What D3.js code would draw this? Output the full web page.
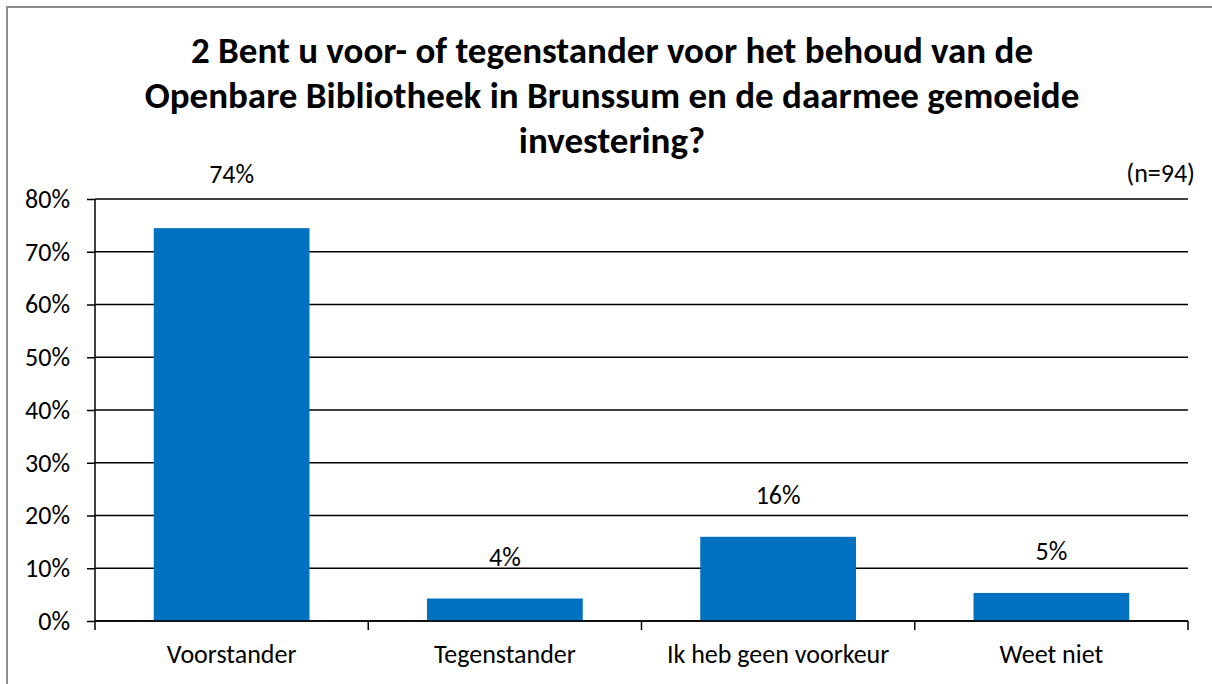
<!DOCTYPE html>
<html><head><meta charset="utf-8">
<script src="https://cdn.jsdelivr.net/npm/d3@7"></script>
<style>body{margin:0;background:#fff}svg{display:block}</style>
</head><body>
<script>
const categories = ["Voorstander", "Tegenstander", "Ik heb geen voorkeur", "Weet niet"];
const values = [0.7447, 0.0426, 0.1596, 0.0532];
const valueLabels = ["74%", "4%", "16%", "5%"];
const yTicks = [0, 0.1, 0.2, 0.3, 0.4, 0.5, 0.6, 0.7, 0.8];
const titleLines = ["2 Bent u voor- of tegenstander voor het behoud van de", "Openbare Bibliotheek in Brunssum en de daarmee gemoeide", "investering?"];
const note = "(n=94)";

(function () {
const W = 1212, H = 684;
const font = "Carlito, Calibri, Lato, sans-serif";
const svg = d3.select("body").append("svg").attr("width", W).attr("height", H);
svg.append("rect").attr("x", 7).attr("y", 7).attr("width", 1220).attr("height", 700)
  .attr("fill", "#fff").attr("stroke", "#8c8c8c").attr("stroke-width", 2);

const pL = 95, pR = 1188, pT = 199, pB = 621;
const x = d3.scaleBand().domain(categories).range([pL, pR]).paddingInner(0.43).paddingOuter(0.215);
const y = d3.scaleLinear().domain([0, 0.8]).range([pB, pT]);

svg.append("g").selectAll("line").data(yTicks).join("line")
  .attr("x1", pL).attr("x2", pR).attr("y1", d => y(d)).attr("y2", d => y(d))
  .attr("stroke", "#000").attr("stroke-width", 1.5);

svg.append("g").selectAll("rect").data(values).join("rect")
  .attr("x", (d, i) => x(categories[i])).attr("width", x.bandwidth())
  .attr("y", d => y(d)).attr("height", d => pB - y(d)).attr("fill", "#0070c0");

const yAxis = d3.axisLeft(y).tickValues(yTicks).tickFormat(d3.format(".0%")).tickSize(8).tickPadding(17);
const ga = svg.append("g").attr("transform", `translate(${pL},0)`).call(yAxis);
ga.select(".domain").attr("stroke", "#000").attr("stroke-width", 1.5).attr("d", `M0,${pT}V${pB}`);
ga.selectAll(".tick line").attr("stroke", "#000").attr("stroke-width", 1.5);
ga.selectAll("text").attr("font-family", font).attr("font-size", 26).attr("fill", "#000");

const xb = svg.append("g").attr("transform", `translate(0,${pB})`);
xb.append("line").attr("x1", pL).attr("x2", pR).attr("stroke", "#000").attr("stroke-width", 1.5);
const bounds = [pL, ...categories.map(c => x(c) + x.bandwidth() + x.step() * x.paddingInner() / 2)];
xb.selectAll("line.t").data(bounds).join("line").attr("class", "t")
  .attr("x1", d => d).attr("x2", d => d).attr("y1", 0).attr("y2", 9)
  .attr("stroke", "#000").attr("stroke-width", 1.5);
xb.selectAll("text").data(categories).join("text")
  .attr("x", d => x(d) + x.bandwidth() / 2).attr("y", 42)
  .attr("text-anchor", "middle").attr("font-family", font).attr("font-size", 26).text(d => d);

svg.append("g").selectAll("text").data(values).join("text")
  .attr("x", (d, i) => x(categories[i]) + x.bandwidth() / 2)
  .attr("y", d => y(d) - 33 < pT ? pT - 16 : y(d) - 33)
  .attr("text-anchor", "middle").attr("font-family", font).attr("font-size", 26).text((d, i) => valueLabels[i]);

svg.append("g").selectAll("text").data(titleLines).join("text")
  .attr("x", 612).attr("y", (d, i) => 63 + i * 45)
  .attr("text-anchor", "middle").attr("font-family", font).attr("font-weight", "bold")
  .attr("font-size", 37).text(d => d);

svg.append("text").attr("x", 1195).attr("y", 182).attr("text-anchor", "end")
  .attr("font-family", font).attr("font-size", 26).text(note);
})();
</script>
</body></html>
